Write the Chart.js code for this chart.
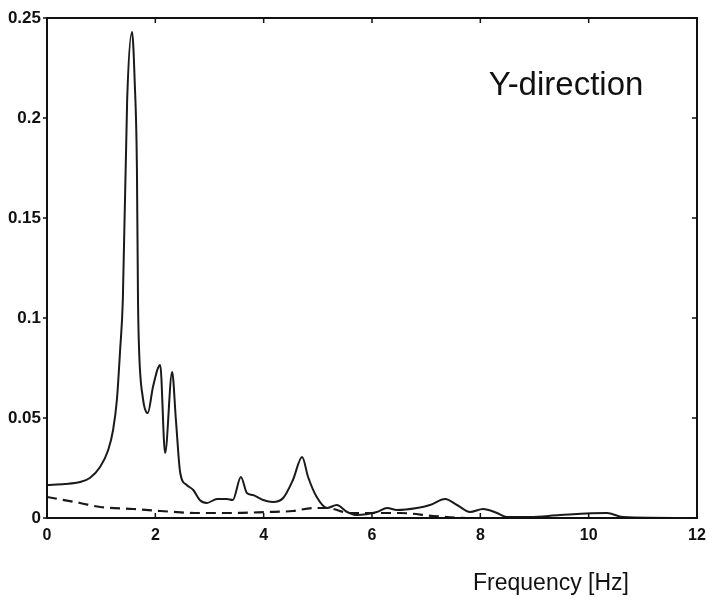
<!DOCTYPE html>
<html>
<head>
<meta charset="utf-8">
<script src="https://cdn.jsdelivr.net/npm/chart.js@4.4.1/dist/chart.umd.min.js"></script>
<style>
  body { margin: 0; background: #fff; }
  #wrap { width: 707px; height: 601px; position: relative; }
</style>
</head>
<body>
<div id="wrap"><canvas id="chart-area"></canvas></div>
<script>
// solid curve: response spectrum
const freqSolid = [0, 0.33, 0.61, 0.79, 0.98, 1.13, 1.22, 1.29, 1.35, 1.40, 1.48, 1.57, 1.62, 1.66, 1.68, 1.70, 1.77, 1.86, 1.96, 2.09, 2.18, 2.31, 2.38, 2.46, 2.58, 2.70, 2.82, 2.95, 3.14, 3.32, 3.43, 3.58, 3.69, 3.80, 3.99, 4.17, 4.36, 4.54, 4.71, 4.82, 4.98, 5.17, 5.35, 5.54, 5.72, 6.09, 6.28, 6.46, 6.83, 7.07, 7.35, 7.57, 7.81, 8.05, 8.31, 8.49, 8.92, 9.47, 10.34, 10.63, 12];
const ampSolid = [0.0165, 0.017, 0.018, 0.020, 0.0255, 0.034, 0.044, 0.059, 0.084, 0.109, 0.209, 0.243, 0.2175, 0.175, 0.109, 0.084, 0.060, 0.0525, 0.066, 0.0765, 0.0325, 0.073, 0.049, 0.0225, 0.0165, 0.014, 0.009, 0.0075, 0.0095, 0.0095, 0.009, 0.0205, 0.0125, 0.0115, 0.009, 0.008, 0.010, 0.019, 0.0305, 0.0205, 0.0105, 0.005, 0.0065, 0.003, 0.0015, 0.003, 0.005, 0.004, 0.005, 0.0065, 0.0095, 0.0065, 0.003, 0.0045, 0.0025, 0.0005, 0.0005, 0.0015, 0.0025, 0.0005, 0];

// dashed curve
const freqDashed = [0, 0.61, 0.98, 1.59, 2.09, 2.82, 3.43, 4.06, 4.54, 4.91, 5.17, 5.59, 6.52, 7.13, 7.75, 8.31];
const ampDashed = [0.0105, 0.0075, 0.0055, 0.0045, 0.0035, 0.0025, 0.0025, 0.003, 0.0035, 0.005, 0.005, 0.0025, 0.0025, 0.001, 0, 0];

const xTicks = [0, 2, 4, 6, 8, 10, 12];
const yTicks = [0, 0.05, 0.1, 0.15, 0.2, 0.25];

const toPoints = (xs, ys) => xs.map((x, i) => ({ x: x, y: ys[i] }));

const frame = {
    id: 'frame',
    afterDraw(chart) {
        const ctx = chart.ctx;
        const a = chart.chartArea;
        const xs = chart.scales.x, ys = chart.scales.y;
        ctx.save();
        ctx.strokeStyle = '#111';
        ctx.lineWidth = 2;
        ctx.strokeRect(a.left, a.top, a.right - a.left, a.bottom - a.top);
        ctx.lineWidth = 1.5;
        ctx.beginPath();
        xTicks.forEach(v => {
            const px = xs.getPixelForValue(v);
            ctx.moveTo(px, a.bottom); ctx.lineTo(px, a.bottom - 5);
            ctx.moveTo(px, a.top); ctx.lineTo(px, a.top + 5);
        });
        yTicks.forEach(v => {
            const py = ys.getPixelForValue(v);
            ctx.moveTo(a.left - 4, py); ctx.lineTo(a.left, py);
            ctx.moveTo(a.right, py); ctx.lineTo(a.right - 5, py);
        });
        ctx.stroke();
        ctx.fillStyle = '#111';
        ctx.font = '33px "Liberation Sans", Arial, sans-serif';
        ctx.textAlign = 'center';
        ctx.textBaseline = 'alphabetic';
        ctx.fillText('Y-direction', 566, 95);
        ctx.font = '23px "Liberation Sans", Arial, sans-serif';
        ctx.fillText('Frequency [Hz]', 551, 590);
        ctx.restore();
    }
};

const tickFont = { family: '"Liberation Sans", Arial, sans-serif', size: 16, weight: 'bold' };

const ctx = document.getElementById('chart-area').getContext('2d');
window.chart = new Chart(ctx, {
    type: 'line',
    data: {
        datasets: [{
            data: toPoints(freqSolid, ampSolid),
            borderColor: '#1a1a1a',
            borderWidth: 2,
            pointRadius: 0,
            cubicInterpolationMode: 'monotone',
            fill: false
        }, {
            data: toPoints(freqDashed, ampDashed),
            borderColor: '#1a1a1a',
            borderWidth: 2.2,
            borderDash: [10, 6],
            pointRadius: 0,
            cubicInterpolationMode: 'monotone',
            fill: false
        }]
    },
    options: {
        responsive: true,
        maintainAspectRatio: false,
        animation: false,
        layout: { padding: { top: 18, right: 10, left: 0, bottom: 0 } },
        plugins: {
            legend: { display: false },
            tooltip: { enabled: false }
        },
        scales: {
            x: {
                type: 'linear',
                min: 0,
                max: 12,
                grid: { display: false, drawTicks: false },
                border: { display: false },
                afterFit: s => { s.height = 83; s.paddingRight = 0; s.paddingLeft = 0; },
                ticks: {
                    stepSize: 2,
                    padding: 8,
                    color: '#111',
                    font: tickFont
                }
            },
            y: {
                min: 0,
                max: 0.25,
                grid: { display: false, drawTicks: false },
                border: { display: false },
                afterFit: s => { s.width = 47; s.paddingTop = 0; s.paddingBottom = 0; },
                ticks: {
                    stepSize: 0.05,
                    padding: 6,
                    color: '#111',
                    font: { family: tickFont.family, size: 17, weight: 'bold' },
                    callback: v => String(+v.toFixed(2))
                }
            }
        }
    },
    plugins: [frame]
});
</script>
</body>
</html>
